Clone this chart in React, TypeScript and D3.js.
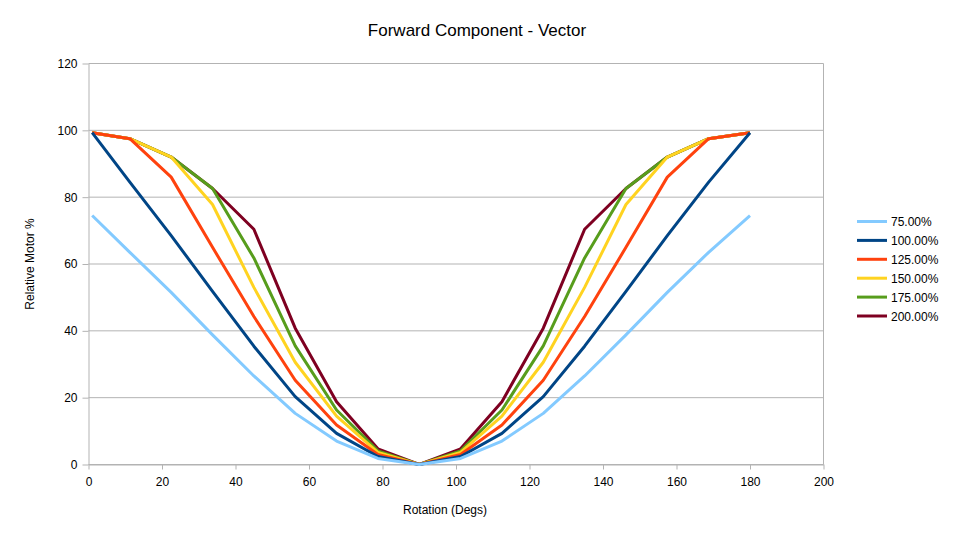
import React, { useEffect, useRef } from 'react';
import * as d3 from 'd3';

// rotation angle (degrees) for every sample
const rotation = [1, 11.25, 22.5, 33.75, 45, 56.25, 67.5, 78.75, 90, 101.25, 112.5, 123.75, 135, 146.25, 157.5, 168.75, 180];

const seriesNames = ['75.00%', '100.00%', '125.00%', '150.00%', '175.00%', '200.00%'];
const seriesColors = ['#83caff', '#004586', '#ff420e', '#ffd320', '#579d1c', '#7e0021'];

const motor75 = [74.5, 63.5, 51.5, 38.8, 26.5, 15.3, 7, 1.8, 0, 1.8, 7, 15.3, 26.5, 38.8, 51.5, 63.5, 74.5];
const motor100 = [99.3, 84.5, 68.5, 51.8, 35.4, 20.3, 9.3, 2.4, 0, 2.4, 9.3, 20.3, 35.4, 51.8, 68.5, 84.5, 99.3];
const motor125 = [99.3, 97.5, 86, 65, 44.3, 25.2, 11.8, 3, 0, 3, 11.8, 25.2, 44.3, 65, 86, 97.5, 99.3];
const motor150 = [99.3, 97.5, 92, 77.8, 53, 30.6, 14.5, 3.6, 0, 3.6, 14.5, 30.6, 53, 77.8, 92, 97.5, 99.3];
const motor175 = [99.3, 97.5, 92, 82.6, 61.8, 35.5, 16.3, 4.1, 0, 4.1, 16.3, 35.5, 61.8, 82.6, 92, 97.5, 99.3];
const motor200 = [99.3, 97.5, 92, 82.6, 70.4, 40.8, 18.8, 4.7, 0, 4.7, 18.8, 40.8, 70.4, 82.6, 92, 97.5, 99.3];

const allSeries = [motor75, motor100, motor125, motor150, motor175, motor200];

const xTicks = [0, 20, 40, 60, 80, 100, 120, 140, 160, 180, 200];
const yTicks = [0, 20, 40, 60, 80, 100, 120];

const W = 955;
const H = 538;
const FONT = '"Liberation Sans", Arial, sans-serif';

const App: React.FC = () => {
  const svgRef = useRef<SVGSVGElement | null>(null);

  useEffect(() => {
    if (!svgRef.current) return;
    const svg = d3.select(svgRef.current);
    svg.selectAll('*').remove();

    const plot = { left: 88.5, right: 823.5, top: 63.5, bottom: 464.5 };

    const x = d3.scaleLinear().domain([0, 200]).range([plot.left, plot.right]);
    const y = d3.scaleLinear().domain([0, 120]).range([plot.bottom, plot.top]);

    svg.append('rect').attr('width', W).attr('height', H).attr('fill', '#fff');

    // horizontal grid lines
    svg.append('g')
      .selectAll('line')
      .data(yTicks)
      .enter()
      .append('line')
      .attr('x1', plot.left)
      .attr('x2', plot.right)
      .attr('y1', d => y(d))
      .attr('y2', d => y(d))
      .attr('stroke', '#b3b3b3')
      .attr('stroke-width', 1);

    // right wall border
    svg.append('line')
      .attr('x1', plot.right).attr('x2', plot.right)
      .attr('y1', plot.top).attr('y2', plot.bottom)
      .attr('stroke', '#b3b3b3');

    // y axis
    const yAxis = svg.append('g')
      .attr('transform', `translate(${plot.left},0)`)
      .call(d3.axisLeft(y).tickValues(yTicks).tickSize(6).tickSizeOuter(0).tickPadding(5));
    yAxis.select('.domain').attr('stroke', '#b3b3b3');
    yAxis.selectAll('.tick line').attr('stroke', '#b3b3b3');
    yAxis.selectAll('.tick text')
      .attr('fill', '#000')
      .style('font-family', FONT)
      .style('font-size', '12px');

    // x axis
    const xAxis = svg.append('g')
      .attr('transform', `translate(0,${plot.bottom})`)
      .call(d3.axisBottom(x).tickValues(xTicks).tickSize(5).tickSizeOuter(0).tickPadding(8));
    xAxis.select('.domain').attr('stroke', '#b3b3b3');
    xAxis.selectAll('.tick line').attr('stroke', '#b3b3b3');
    xAxis.selectAll('.tick text')
      .attr('fill', '#000')
      .style('font-family', FONT)
      .style('font-size', '12px');

    // series lines, last series drawn first so lower ones sit on top
    const line = d3.line<number>()
      .x((_, i) => x(rotation[i]))
      .y(d => y(d));

    const order = allSeries.map((_, i) => i).reverse();
    svg.append('g')
      .selectAll('path')
      .data(order)
      .enter()
      .append('path')
      .attr('d', i => line(allSeries[i]) || '')
      .attr('fill', 'none')
      .attr('stroke', i => seriesColors[i])
      .attr('stroke-width', 3)
      .attr('stroke-linejoin', 'round');

    // title
    svg.append('text')
      .attr('x', 477)
      .attr('y', 36)
      .attr('text-anchor', 'middle')
      .style('font-family', FONT)
      .style('font-size', '17px')
      .text('Forward Component - Vector');

    // axis titles
    svg.append('text')
      .attr('x', 445)
      .attr('y', 514)
      .attr('text-anchor', 'middle')
      .style('font-family', FONT)
      .style('font-size', '12px')
      .text('Rotation (Degs)');

    svg.append('text')
      .attr('transform', `translate(34,${(plot.top + plot.bottom) / 2}) rotate(-90)`)
      .attr('text-anchor', 'middle')
      .style('font-family', FONT)
      .style('font-size', '12px')
      .text('Relative Motor %');

    // legend
    const legend = svg.append('g')
      .selectAll('g')
      .data(seriesNames)
      .enter()
      .append('g')
      .attr('transform', (_, i) => `translate(857,${221.5 + i * 18.9})`);

    legend.append('line')
      .attr('x1', 0)
      .attr('x2', 30)
      .attr('stroke', (_, i) => seriesColors[i])
      .attr('stroke-width', 3);

    legend.append('text')
      .attr('x', 34)
      .attr('y', 4.5)
      .style('font-family', FONT)
      .style('font-size', '12px')
      .text(d => d);
  }, []);

  return (
    <svg
      ref={svgRef}
      width={W}
      height={H}
      style={{ position: 'absolute', left: 0, top: 0, display: 'block' }}
    />
  );
};

export default App;
